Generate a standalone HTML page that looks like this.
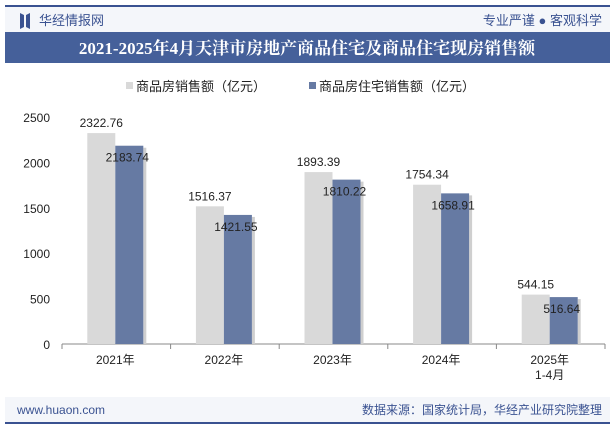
<!DOCTYPE html>
<html><head><meta charset="utf-8"><style>
body{margin:0;width:615px;height:427px;overflow:hidden;background:#fff;font-family:"Liberation Sans","Noto Sans CJK SC",sans-serif}
</style></head><body>
<svg width="615" height="427" xmlns="http://www.w3.org/2000/svg" font-family="Liberation Sans, Noto Sans CJK SC, sans-serif">
<rect x="5" y="5" width="605" height="2" fill="#3a5291"/>
<rect x="5" y="7" width="605" height="25" fill="#f4f6fa"/>
<path d="M20 13 L24 15 L24 27 L20 29Z M30 13 L26 15 L26 27 L30 29Z" fill="#3a5291"/>
<text x="39" y="25" font-size="13" fill="#3a5291">华经情报网</text>
<text x="602" y="25" font-size="13" fill="#3a5291" text-anchor="end">专业严谨 ● 客观科学</text>
<rect x="5" y="32" width="605" height="31" fill="#45609a"/>
<text x="307" y="54" font-size="17" font-weight="bold" fill="#fff" text-anchor="middle" font-family="Liberation Serif, Noto Serif CJK SC, serif">2021-2025年4月天津市房地产商品住宅及商品住宅现房销售额</text>
<g>
<rect x="126" y="82" width="7" height="7" fill="#d9d9d9"/>
<text x="136" y="91" font-size="13" fill="#222">商品房销售额（亿元）</text>
<rect x="309" y="82" width="7" height="7" fill="#667aa3"/>
<text x="319" y="91" font-size="13" fill="#222">商品房住宅销售额（亿元）</text>
</g>
<g id="plot"></g>
<rect x="5" y="397" width="605" height="25" fill="#f4f6fa"/>
<rect x="5" y="422" width="605" height="2" fill="#3a5291"/>
<text x="17" y="414" font-size="12" fill="#3a5291">www.huaon.com</text>
<text x="602" y="414" font-size="12" fill="#3a5291" text-anchor="end">数据来源：国家统计局，华经产业研究院整理</text>
</svg>
<script>
const categories=["2021年","2022年","2023年","2024年","2025年\n1-4月"];
const totalSales=[2322.76,1516.37,1893.39,1754.34,544.15];
const residentialSales=[2183.74,1421.55,1810.22,1658.91,516.64];
const yTicks=[0,500,1000,1500,2000,2500];
const NS="http://www.w3.org/2000/svg";
const g=document.getElementById('plot');
const x0=62,x1=605,yb=344,yt=117,ymax=2500;
const bw=(x1-x0)/categories.length;
const ys=v=>yb-(v/ymax)*(yb-yt);
function mk(t,a,p){const e=document.createElementNS(NS,t);for(const k in a)e.setAttribute(k,a[k]);(p||g).appendChild(e);return e;}
yTicks.forEach(v=>{
 const t=mk('text',{x:x0-12,y:ys(v)+5,'font-size':12,'text-anchor':'end',fill:'#222'});
 
 
 t.textContent=v;
});
const ax=mk('line',{x1:x0,x2:x1,y1:yb,y2:yb,stroke:'#888'});


for(let i=0;i<=categories.length;i++){
 const tk=mk('line',{x1:x0+i*bw,x2:x0+i*bw,y1:yb,y2:yb+5,stroke:'#888'});
 
 
}
categories.forEach((c,i)=>{
 const cx=x0+bw*(i+0.5)-1;
 const w=28;
 const r1=mk('rect',{x:cx-w,y:ys(totalSales[i]),width:w,height:yb-ys(totalSales[i]),fill:'#d9d9d9'});
 
 
 const sh=mk('rect',{x:cx+w,y:ys(residentialSales[i])+2,width:3,height:yb-ys(residentialSales[i])-2,fill:'#cfcfcf'});
 
 
 const r2=mk('rect',{x:cx,y:ys(residentialSales[i]),width:w,height:yb-ys(residentialSales[i]),fill:'#667aa3'});
 
 
 const l1=mk('text',{x:cx-w/2,y:ys(totalSales[i])-6,'font-size':12,'text-anchor':'middle',fill:'#222'});
 
 
 l1.textContent=totalSales[i].toFixed(2);
 const l2=mk('text',{x:cx+w/2-2,y:ys(residentialSales[i])+16,'font-size':12,'text-anchor':'middle',fill:'#222'});
 
 
 l2.textContent=residentialSales[i].toFixed(2);
 c.split('\n').forEach((s,j)=>{
  const t=mk('text',{x:cx,y:yb+20+j*15,'font-size':12,'text-anchor':'middle',fill:'#222'});
  
  
  t.textContent=s;
 });
});
</script>
</body></html>
